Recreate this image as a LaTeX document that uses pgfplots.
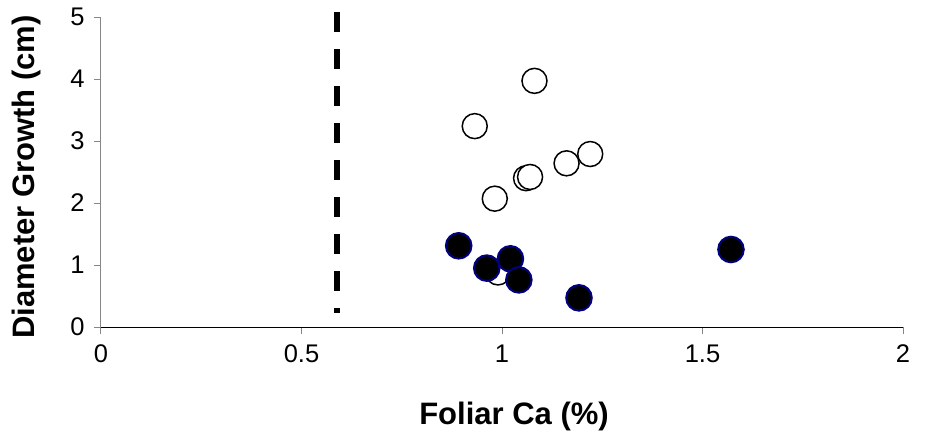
\documentclass[border=0pt]{standalone}
\usepackage{fontspec}
\setmainfont{Liberation Sans}
\usepackage{pgfplots}
\pgfplotsset{compat=1.18}
\definecolor{axisgray}{RGB}{134,134,134}
\definecolor{markedge}{RGB}{0,0,128}

\begin{document}
\begin{tikzpicture}
\useasboundingbox (-101pt,-104pt) rectangle (824pt,327pt);
\begin{axis}[
  at={(0,0)}, anchor=south west,
  scale only axis, width=802pt, height=310pt,
  xmin=0, xmax=2, ymin=0, ymax=5,
  axis x line=bottom, axis y line=left,
  x axis line style={black, line width=1pt, -},
  y axis line style={axisgray, line width=1pt, -},
  xtick={0,0.5,1,1.5,2}, ytick={0,1,2,3,4,5},
  tick align=outside, major tick length=7pt,
  tick style={axisgray, line width=1pt},
  /pgf/number format/assume math mode=true,
  ticklabel style={font=\fontsize{25.5}{30}\selectfont},
  xticklabel style={anchor=base, yshift=-28pt},
  yticklabel style={anchor=east, xshift=-6pt},
  xlabel={\fontsize{31}{36}\selectfont\bfseries Foliar Ca (\%)},
  ylabel={\fontsize{31}{36}\selectfont\bfseries Diameter Growth (cm)},
  every axis x label/.style={at={(axis description cs:0.5,0)}, anchor=base, xshift=12pt, yshift=-97pt},
  every axis y label/.style={at={(axis description cs:0,0.5)}, anchor=center, rotate=90, yshift=75pt, xshift=-5pt},
  clip=false,
]
% threshold line
\addplot[black, line width=5.5pt, dash pattern=on 20pt off 17pt]
  coordinates {(0.588,5.08) (0.588,0.226)};
% open symbols
\addplot[only marks, mark=*, mark size=12.5pt,
  mark options={draw=black, fill=white, line width=1.5pt}]
  coordinates {(1.081,3.97) (0.932,3.24) (0.982,2.07) (1.060,2.40)
               (1.070,2.42) (1.161,2.64) (1.220,2.79) (0.990,0.88)};
% filled symbols
\addplot[only marks, mark=*, mark size=12.8pt,
  mark options={draw=markedge, fill=black, line width=2pt}]
  coordinates {(0.892,1.31) (1.021,1.10) (0.962,0.95) (1.042,0.76)
               (1.192,0.47) (1.571,1.25)};
\end{axis}
\end{tikzpicture}
\end{document}
